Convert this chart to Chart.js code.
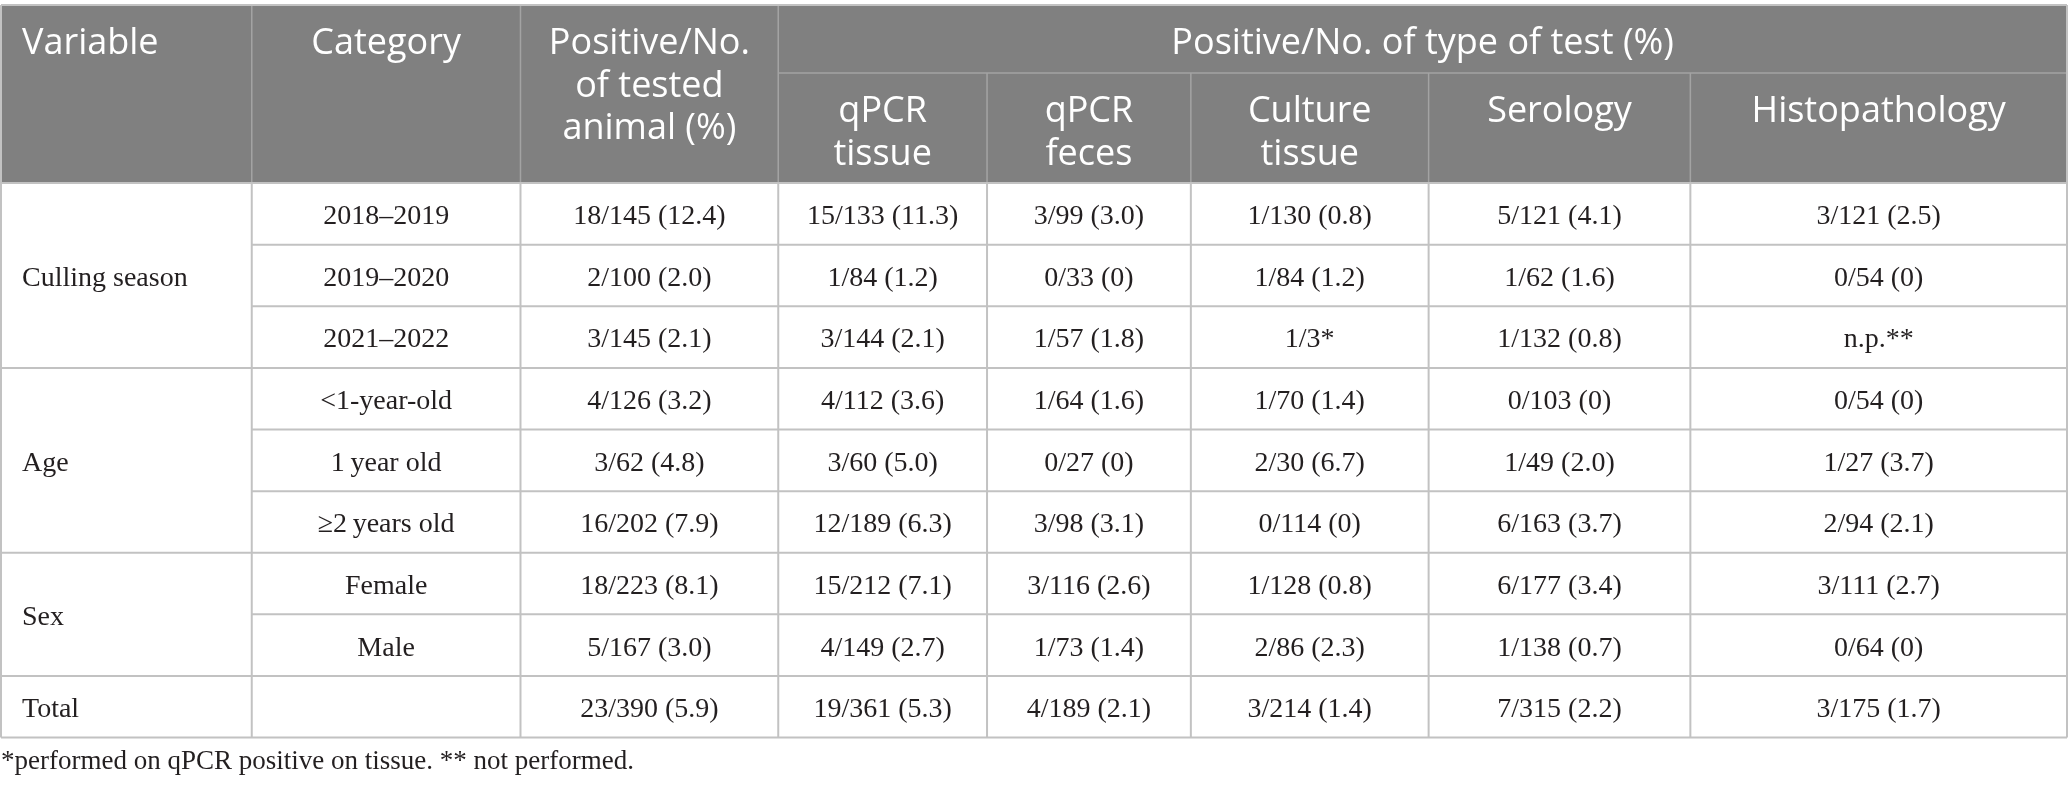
<!DOCTYPE html>
<html>
<head>
<meta charset="utf-8">
<title>Positive results by type of test</title>
<script src="https://cdn.jsdelivr.net/npm/chart.js@4.4.1/dist/chart.umd.min.js"></script>
<style>
    html, body { margin: 0; padding: 0; background: #ffffff; }
    #wrap { width: 2068px; height: 791px; }
</style>
</head>
<body>
<div id="wrap"><canvas id="test-results-table"></canvas></div>
<script>
// header labels
const headerTop = ['Variable', 'Category', 'Positive/No.\nof tested\nanimal (%)'];
const headerGroup = 'Positive/No. of type of test (%)';
const testTypes = ['qPCR\ntissue', 'qPCR\nfeces', 'Culture\ntissue', 'Serology', 'Histopathology'];

// row labels
const variables = ['Culling season', 'Age', 'Sex', 'Total'];
const variableRowSpans = [3, 3, 2, 1];
const categories = ['2018–2019', '2019–2020', '2021–2022', '<1-year-old', '1\u2009year old', '≥2\u2009years old', 'Female', 'Male', ''];

// positive / tested (%)
const testedAnimals = ['18/145 (12.4)', '2/100 (2.0)', '3/145 (2.1)', '4/126 (3.2)', '3/62 (4.8)', '16/202 (7.9)', '18/223 (8.1)', '5/167 (3.0)', '23/390 (5.9)'];
const qpcrTissue = ['15/133 (11.3)', '1/84 (1.2)', '3/144 (2.1)', '4/112 (3.6)', '3/60 (5.0)', '12/189 (6.3)', '15/212 (7.1)', '4/149 (2.7)', '19/361 (5.3)'];
const qpcrFeces = ['3/99 (3.0)', '0/33 (0)', '1/57 (1.8)', '1/64 (1.6)', '0/27 (0)', '3/98 (3.1)', '3/116 (2.6)', '1/73 (1.4)', '4/189 (2.1)'];
const cultureTissue = ['1/130 (0.8)', '1/84 (1.2)', '1/3*', '1/70 (1.4)', '2/30 (6.7)', '0/114 (0)', '1/128 (0.8)', '2/86 (2.3)', '3/214 (1.4)'];
const serology = ['5/121 (4.1)', '1/62 (1.6)', '1/132 (0.8)', '0/103 (0)', '1/49 (2.0)', '6/163 (3.7)', '6/177 (3.4)', '1/138 (0.7)', '7/315 (2.2)'];
const histopathology = ['3/121 (2.5)', '0/54 (0)', 'n.p.**', '0/54 (0)', '1/27 (3.7)', '2/94 (2.1)', '3/111 (2.7)', '0/64 (0)', '3/175 (1.7)'];

const footnote = '*performed on qPCR positive on tissue. ** not performed.';

// layout (scale units)
const columnWidths = [251, 269, 258, 209, 204, 238, 262, 377];
const headerHeights = [68, 110];
const rowHeight = 61.6;
const cellPadding = 21;

const columnEdges = columnWidths.reduce((acc, w) => acc.concat(acc[acc.length - 1] + w), [0]);
const headerBottom = headerHeights[0] + headerHeights[1];
const tableBottom = headerBottom + rowHeight * categories.length;

function columnCenter (i) {
    return (columnEdges[i] + columnEdges[i + 1]) / 2;
}

function rowCenter (start, span) {
    return headerBottom + rowHeight * (start + span / 2);
}

function bodyColumn (label, texts, col) {
    return {
        label: label,
        cellText: texts,
        cellAlign: 'center',
        data: texts.map((t, r) => ({ x: columnCenter(col), y: rowCenter(r, 1) }))
    };
}

const variableStarts = variableRowSpans.map((s, i) => variableRowSpans.slice(0, i).reduce((a, b) => a + b, 0));

const datasets = [
    {
        label: 'Variable',
        cellText: variables,
        cellAlign: 'left',
        data: variables.map((v, i) => ({ x: columnEdges[0] + cellPadding, y: rowCenter(variableStarts[i], variableRowSpans[i]) }))
    },
    bodyColumn('Category', categories, 1),
    bodyColumn('Tested animals', testedAnimals, 2),
    bodyColumn('qPCR tissue', qpcrTissue, 3),
    bodyColumn('qPCR feces', qpcrFeces, 4),
    bodyColumn('Culture tissue', cultureTissue, 5),
    bodyColumn('Serology', serology, 6),
    bodyColumn('Histopathology', histopathology, 7)
];

const tablePlugin = {
    id: 'tableCells',
    beforeDatasetsDraw (chart, args, opts) {
        const { ctx } = chart;
        const x = chart.scales.x;
        const y = chart.scales.y;
        const last = columnEdges.length - 1;

        const line = (x1, y1, x2, y2, color, width) => {
            ctx.beginPath();
            ctx.strokeStyle = color;
            ctx.lineWidth = width;
            ctx.moveTo(x.getPixelForValue(x1), y.getPixelForValue(y1));
            ctx.lineTo(x.getPixelForValue(x2), y.getPixelForValue(y2));
            ctx.stroke();
        };

        ctx.save();
        ctx.fillStyle = opts.headerColor;
        ctx.fillRect(
            x.getPixelForValue(0),
            y.getPixelForValue(0),
            x.getPixelForValue(columnEdges[last]) - x.getPixelForValue(0),
            y.getPixelForValue(headerBottom) - y.getPixelForValue(0)
        );

        // header rules
        for (let i = 1; i <= 3; i++) {
            line(columnEdges[i], 0, columnEdges[i], headerBottom, opts.headerRuleColor, 1.5);
        }
        for (let i = 4; i < last; i++) {
            line(columnEdges[i], headerHeights[0], columnEdges[i], headerBottom, opts.headerRuleColor, 1.5);
        }
        line(columnEdges[3], headerHeights[0], columnEdges[last], headerHeights[0], opts.headerRuleColor, 1.5);

        // body rules
        for (let i = 1; i < last; i++) {
            line(columnEdges[i], headerBottom, columnEdges[i], tableBottom, opts.ruleColor, 2);
        }
        const groupEnds = variableStarts.slice(1);
        for (let r = 1; r < categories.length; r++) {
            const startCol = groupEnds.includes(r) ? 0 : 1;
            const yv = headerBottom + rowHeight * r;
            line(columnEdges[startCol], yv, columnEdges[last], yv, opts.ruleColor, 2);
        }
        line(0, headerBottom, columnEdges[last], headerBottom, opts.ruleColor, 2);

        // outer border
        line(0, 0, columnEdges[last], 0, opts.ruleColor, 2);
        line(0, tableBottom, columnEdges[last], tableBottom, opts.ruleColor, 2);
        line(0, 0, 0, tableBottom, opts.ruleColor, 2);
        line(columnEdges[last], 0, columnEdges[last], tableBottom, opts.ruleColor, 2);

        // header text
        ctx.fillStyle = opts.headerTextColor;
        ctx.font = opts.headerFont;
        ctx.textBaseline = 'middle';
        const drawLines = (text, xv, topv, align) => {
            ctx.textAlign = align;
            text.split('\n').forEach((t, k) => {
                ctx.fillText(t, x.getPixelForValue(xv), y.getPixelForValue(topv + opts.headerFirstLine + k * opts.headerLineHeight));
            });
        };
        drawLines(headerTop[0], columnEdges[0] + cellPadding, 0, 'left');
        drawLines(headerTop[1], columnCenter(1), 0, 'center');
        drawLines(headerTop[2], columnCenter(2), 0, 'center');
        drawLines(headerGroup, (columnEdges[3] + columnEdges[last]) / 2, 0, 'center');
        testTypes.forEach((t, i) => drawLines(t, columnCenter(i + 3), headerHeights[0], 'center'));
        ctx.restore();
    },
    afterDatasetsDraw (chart, args, opts) {
        const { ctx } = chart;
        ctx.save();
        ctx.fillStyle = opts.textColor;
        ctx.font = opts.bodyFont;
        ctx.textBaseline = 'middle';
        chart.data.datasets.forEach((ds, i) => {
            ctx.textAlign = ds.cellAlign;
            chart.getDatasetMeta(i).data.forEach((pt, j) => {
                ctx.fillText(ds.cellText[j], pt.x, pt.y + 3);
            });
        });
        ctx.restore();
    }
};

new Chart(
    document.getElementById('test-results-table'),
    {
        type: 'scatter',
        data: {
            datasets: datasets
        },
        plugins: [tablePlugin],
        options: {
            responsive: true,
            maintainAspectRatio: false,
            animation: false,
            events: [],
            layout: {
                padding: { top: 5, left: 1, right: 1, bottom: 0 }
            },
            elements: {
                point: { radius: 0, hoverRadius: 0 }
            },
            scales: {
                x: {
                    type: 'linear',
                    display: false,
                    min: 0,
                    max: columnEdges[columnEdges.length - 1]
                },
                y: {
                    type: 'linear',
                    display: false,
                    reverse: true,
                    min: 0,
                    max: tableBottom
                }
            },
            plugins: {
                legend: { display: false },
                tooltip: { enabled: false },
                title: {
                    display: true,
                    position: 'bottom',
                    align: 'start',
                    text: footnote,
                    color: '#231f20',
                    font: { family: '"Liberation Serif", serif', size: 27, weight: 'normal', lineHeight: 1.2 },
                    padding: { top: 8, bottom: 13 }
                },
                tableCells: {
                    headerColor: '#808080',
                    headerRuleColor: '#a3a3a3',
                    ruleColor: '#c2c2c2',
                    headerTextColor: '#ffffff',
                    textColor: '#231f20',
                    headerFont: '36px "Open Sans", sans-serif',
                    bodyFont: '28px "Liberation Serif", serif',
                    headerFirstLine: 39,
                    headerLineHeight: 42.5
                }
            }
        }
    }
);
</script>
</body>
</html>
